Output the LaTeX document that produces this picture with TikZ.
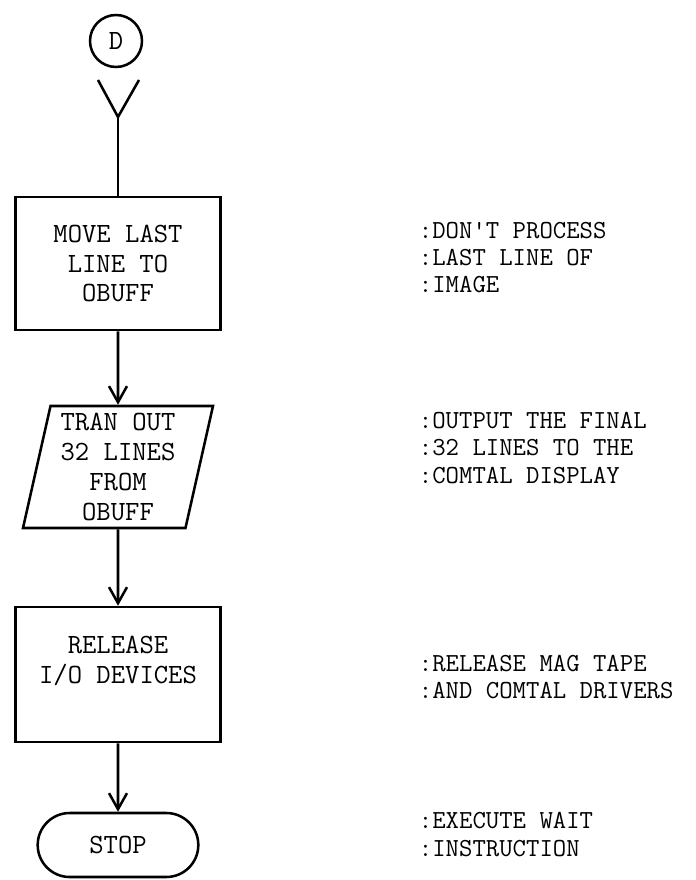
\documentclass[tikz,border=0pt]{standalone}
\usepackage{fontspec}
\usetikzlibrary{arrows.meta,shapes.misc,shapes.geometric}

\begin{document}
\begin{tikzpicture}[font=\ttfamily\fontsize{19.8}{21.3}\selectfont,>={Straight Barb[length=4mm,width=4.5mm]},line width=1.8pt,
  proc/.style={draw,minimum width=5.125cm,minimum height=3.325cm,align=center,inner sep=2pt},
  io/.style={draw,trapezium,trapezium left angle=76,trapezium right angle=104,trapezium stretches body,minimum width=4.75cm,minimum height=3.05cm,align=center,inner sep=1pt},
  term/.style={draw,rounded rectangle,minimum width=4.25cm,minimum height=1.6cm},
  note/.style={anchor=west,align=left,font=\ttfamily\fontsize{18.5}{19.5}\selectfont}]
\useasboundingbox (0,0) rectangle (17.375,-22);
\node[draw,circle,minimum size=1.3cm,inner sep=0pt] (conD) at (2.9,-1.025) {D};
\coordinate (yv) at (2.95,-2.925);
\node[proc] (b1) at (2.95,-6.5875) {MOVE LAST\\LINE TO\\OBUFF};
\node[io] (p2) at (2.95,-11.675) {TRAN OUT\\32 LINES\\FROM\\OBUFF};
\node[proc,minimum height=3.375cm] (b3) at (2.95,-16.8625) {RELEASE\\I/O DEVICES\\\mbox{}};
\node[term] (stop) at (2.95,-21.125) {STOP};
% comments on the right
\node[note] (n1) at (10.325,-6.4375) {:DON'T PROCESS\\:LAST LINE OF\\:IMAGE};
\node[note] (n2) at (10.325,-11.2) {:OUTPUT THE FINAL\\:32 LINES TO THE\\:COMTAL DISPLAY};
\node[note] (n3) at (10.325,-16.925) {:RELEASE MAG TAPE\\:AND COMTAL DRIVERS};
\node[note] (n4) at (10.325,-20.86) {:EXECUTE WAIT\\:INSTRUCTION};
% flow
\draw (yv) ++(-0.5,0.925) -- (yv) -- ++(0.525,0.925);
\draw (yv) -- (b1);
\draw[->] (b1) -- (p2);
\draw[->] (p2) -- (b3);
\draw[->] (b3) -- (stop);
\end{tikzpicture}
\end{document}
